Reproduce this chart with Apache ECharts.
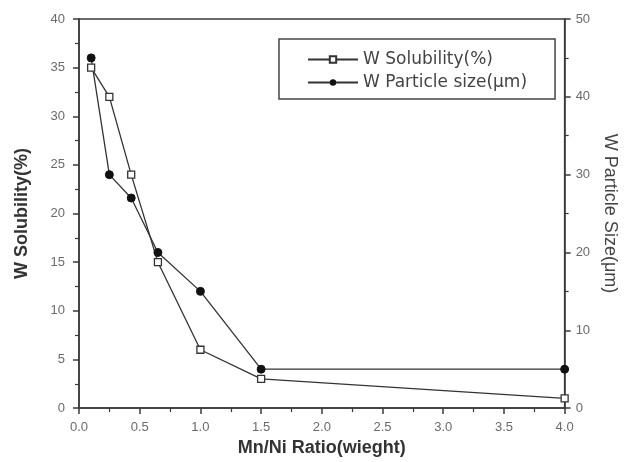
<!DOCTYPE html>
<html>
<head>
<meta charset="utf-8">
<script src="https://cdn.jsdelivr.net/npm/echarts@6/dist/echarts.min.js"></script>
<style>
  html, body { margin: 0; padding: 0; background: #fff; }
  #chart { width: 627px; height: 462px; }
</style>
</head>
<body>
<div id="chart"></div>
<script>
// Mn/Ni ratio (weight)
const ratio = [0.1, 0.25, 0.43, 0.65, 1.0, 1.5, 4.0];
// W solubility (%) - left axis
const solubility = [35, 32, 24, 15, 6, 3, 1];
// W particle size (um) - right axis
const particleSize = [45, 30, 27, 20, 15, 5, 5];

const axisColor = '#3a3a3a';
const labelColor = '#6a6a6a';
const labelFont = 'Liberation Sans, Arial, sans-serif';

const pairs = (xs, ys) => xs.map((x, i) => [x, ys[i]]);

const tickStyle = { show: true, inside: false, length: 6, lineStyle: { color: axisColor, width: 1.5 } };
const minorStyle = { show: true, splitNumber: 2, length: 4, lineStyle: { color: axisColor, width: 1.2 } };
const lineStyleAxis = { show: true, lineStyle: { color: axisColor, width: 1.5 } };

const chart = echarts.init(document.getElementById('chart'));

const options = {
    backgroundColor: '#fff',
    animation: false,
    grid: {
        left: 79, right: 59, top: 19, bottom: 49,
        show: true, borderColor: axisColor, borderWidth: 1.5
    },
    legend: {
        left: 279,
        top: 39,
        orient: 'vertical',
        padding: [12, 28, 8, 28],
        itemGap: 6,
        itemWidth: 50,
        itemHeight: 8,
        borderColor: '#444',
        borderWidth: 1.5,
        textStyle: { fontFamily: 'DejaVu Sans', fontSize: 17, color: '#444' },
        data: ['W Solubility(%)', 'W Particle size(μm)']
    },
    xAxis: {
        type: 'value',
        min: 0,
        max: 4,
        interval: 0.5,
        name: 'Mn/Ni Ratio(wieght)',
        nameLocation: 'middle',
        nameGap: 30,
        nameTextStyle: { fontFamily: labelFont, fontSize: 18, fontWeight: 'bold', color: '#333' },
        axisLine: lineStyleAxis,
        axisTick: tickStyle,
        minorTick: minorStyle,
        axisLabel: {
            margin: 13, color: labelColor, fontFamily: labelFont, fontSize: 13,
            formatter: v => v.toFixed(1)
        },
        splitLine: { show: false }
    },
    yAxis: [{
        type: 'value',
        min: 0,
        max: 40,
        interval: 5,
        name: 'W Solubility(%)',
        nameLocation: 'middle',
        nameGap: 48,
        nameTextStyle: { fontFamily: labelFont, fontSize: 18, fontWeight: 'bold', color: '#333' },
        axisLine: lineStyleAxis,
        axisTick: tickStyle,
        minorTick: minorStyle,
        axisLabel: { margin: 14, color: labelColor, fontFamily: labelFont, fontSize: 13 },
        splitLine: { show: false }
    }, {
        type: 'value',
        position: 'right',
        min: 0,
        max: 50,
        interval: 10,
        name: 'W Particle Size(μm)',
        nameLocation: 'middle',
        nameRotate: -90,
        nameGap: 34,
        nameTextStyle: { fontFamily: labelFont, fontSize: 18, color: '#444' },
        axisLine: lineStyleAxis,
        axisTick: tickStyle,
        minorTick: minorStyle,
        axisLabel: { margin: 11, color: labelColor, fontFamily: labelFont, fontSize: 13 },
        splitLine: { show: false }
    }],
    series: [{
        name: 'W Solubility(%)',
        type: 'line',
        yAxisIndex: 0,
        data: pairs(ratio, solubility),
        symbol: 'rect',
        symbolSize: 7,
        itemStyle: { color: '#fff', borderColor: '#333', borderWidth: 1.3 },
        lineStyle: { color: '#333', width: 1.3 }
    }, {
        name: 'W Particle size(μm)',
        type: 'line',
        yAxisIndex: 1,
        data: pairs(ratio, particleSize),
        symbol: 'circle',
        symbolSize: 8,
        itemStyle: { color: '#111', borderColor: '#111' },
        lineStyle: { color: '#333', width: 1.3 }
    }]
};

chart.setOption(options);
window.onresize = function () {
    chart.resize();
};
</script>
</body>
</html>
